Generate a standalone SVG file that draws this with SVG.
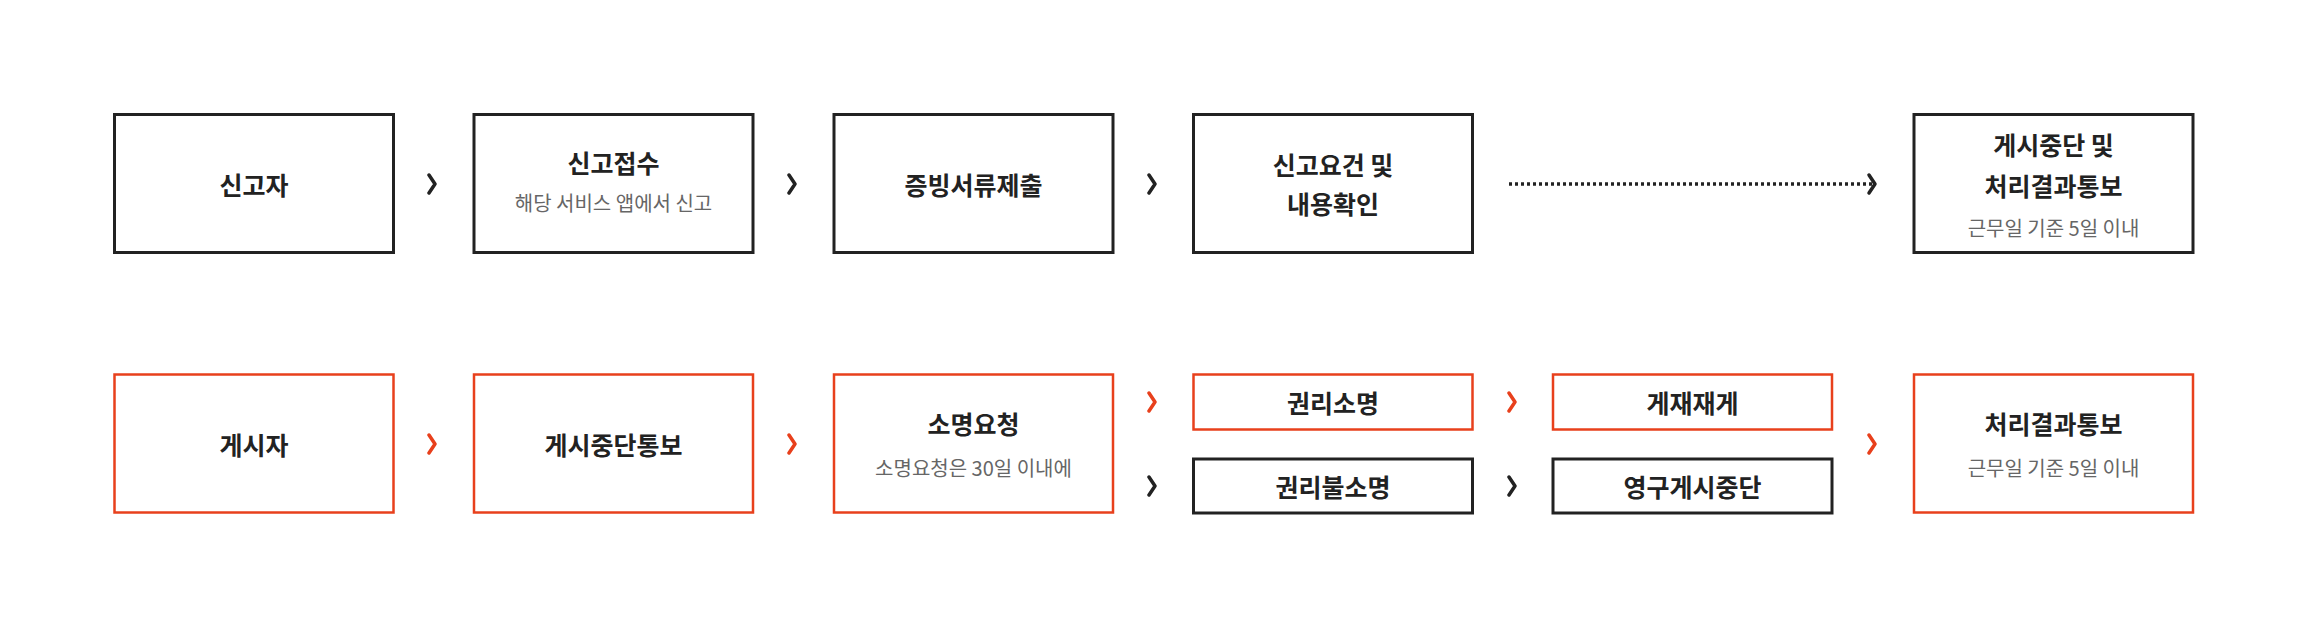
<svg xmlns="http://www.w3.org/2000/svg" width="2302" height="622" viewBox="0 0 2302 622">
<style>
.b{fill:#fff;stroke:#222;stroke-width:3}
.o{fill:#fff;stroke:#e8401c;stroke-width:2.5}
.t{font-family:"Noto Sans CJK KR","Noto Sans",sans-serif;font-size:25px;font-weight:bold;fill:#222;text-anchor:middle;dominant-baseline:central}
.s{font-family:"Noto Sans CJK KR","Noto Sans",sans-serif;font-size:20px;fill:#666;text-anchor:middle;dominant-baseline:central}
.ck{fill:none;stroke:#222;stroke-width:3.5;stroke-linecap:round;stroke-linejoin:round}
.co{fill:none;stroke:#e8401c;stroke-width:3.5;stroke-linecap:round;stroke-linejoin:round}
</style>
<rect width="2302" height="622" fill="#fff"/>
<g id="n1"><rect class="b" x="114.5" y="114.5" width="279" height="138"/><text class="t" x="254" y="183.5">신고자</text></g>
<g id="n2"><rect class="b" x="474" y="114.5" width="279" height="138"/><text class="t" x="613.5" y="162">신고접수</text><text class="s" x="613.5" y="202">해당 서비스 앱에서 신고</text></g>
<g id="n3"><rect class="b" x="834" y="114.5" width="279" height="138"/><text class="t" x="973.5" y="183.5">증빙서류제출</text></g>
<g id="n4"><rect class="b" x="1193.5" y="114.5" width="279" height="138"/><text class="t" x="1333" y="164">신고요건 및</text><text class="t" x="1333" y="203">내용확인</text></g>
<g id="n5"><rect class="b" x="1914" y="114.5" width="279" height="138"/><text class="t" x="2053.5" y="144">게시중단 및</text><text class="t" x="2053.5" y="185">처리결과통보</text><text class="s" x="2053.5" y="227">근무일 기준 5일 이내</text></g>
<g id="m1"><rect class="o" x="114.5" y="374.5" width="279" height="138"/><text class="t" x="254" y="443.5">게시자</text></g>
<g id="m2"><rect class="o" x="474" y="374.5" width="279" height="138"/><text class="t" x="613.5" y="443.5">게시중단통보</text></g>
<g id="m3"><rect class="o" x="834" y="374.5" width="279" height="138"/><text class="t" x="973.5" y="423">소명요청</text><text class="s" x="973.5" y="467">소명요청은 30일 이내에</text></g>
<g id="m4"><rect class="o" x="1193.5" y="374.5" width="279" height="55"/><text class="t" x="1333" y="402">권리소명</text></g>
<g id="m5"><rect class="b" x="1193.5" y="459" width="279" height="54"/><text class="t" x="1333" y="486">권리불소명</text></g>
<g id="m6"><rect class="o" x="1553" y="374.5" width="279" height="55"/><text class="t" x="1692.5" y="402">게재재게</text></g>
<g id="m7"><rect class="b" x="1553" y="459" width="279" height="54"/><text class="t" x="1692.5" y="486">영구게시중단</text></g>
<g id="m8"><rect class="o" x="1914" y="374.5" width="279" height="138"/><text class="t" x="2053.5" y="423">처리결과통보</text><text class="s" x="2053.5" y="467">근무일 기준 5일 이내</text></g>
<g id="connectors">
<path class="ck" d="M429 175 l6 9 l-6 9 M789 175 l6 9 l-6 9 M1149 175 l6 9 l-6 9"/>
<line x1="1509" y1="184" x2="1872" y2="184" stroke="#222" stroke-width="3.5" stroke-dasharray="3,3"/>
<path class="ck" d="M1869 175 l6 9 l-6 9"/>
<path class="co" d="M429 435 l6 9 l-6 9 M789 435 l6 9 l-6 9 M1149 393 l6 9 l-6 9 M1509 393 l6 9 l-6 9 M1869 435 l6 9 l-6 9"/>
<path class="ck" d="M1149 477 l6 9 l-6 9 M1509 477 l6 9 l-6 9"/>
</g>
</svg>
